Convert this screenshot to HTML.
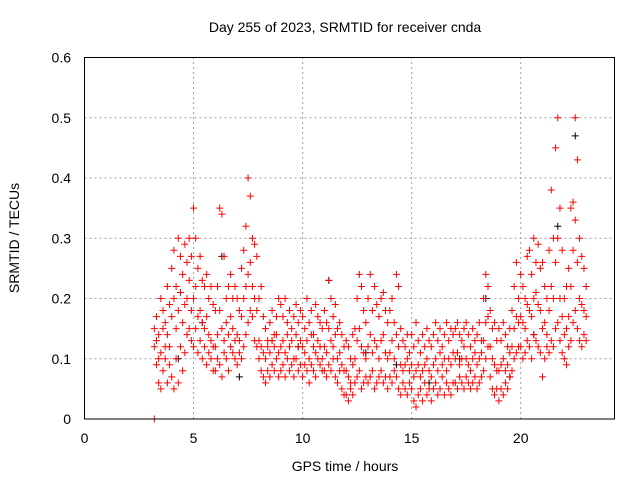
<!DOCTYPE html>
<html><head><meta charset="utf-8"><style>
html,body{margin:0;padding:0;background:#fff;}
svg{display:block;font-family:"Liberation Sans",sans-serif;}
</style></head><body>
<svg id="chart" width="640" height="480" viewBox="0 0 640 480" xmlns="http://www.w3.org/2000/svg">
<rect width="640" height="480" fill="#fff"/>
<text x="345" y="32" font-size="14" text-anchor="middle">Day 255 of 2023, SRMTID for receiver cnda</text>
<g id="grid"></g>
<g id="ticks"></g>
<g id="marks"></g>
<rect x="84.5" y="57.5" width="530" height="361.5" fill="none" stroke="#000" stroke-width="1"/>
<text x="345" y="471" font-size="14" text-anchor="middle">GPS time / hours</text>
<text transform="translate(19,238) rotate(-90)" font-size="14" text-anchor="middle">SRMTID / TECUs</text>
</svg>
<script>
const xTicks=[0,5,10,15,20];
const yTicks=[0,0.1,0.2,0.3,0.4,0.5,0.6];
const yTickLabels=["0","0.1","0.2","0.3","0.4","0.5","0.6"];
const startHour=3.2;
const stepHour=0.1;
const seriesHigh=[.15,.17,.14,.2,.18,.16,.22,.19,
.25,.28,.22,.3,.27,.24,.29,.26,.3,.27,
.35,.3,.25,.27,.23,.22,.24,.2,.22,.19,
.18,.22,.35,.34,.27,.2,.22,.24,.2,.22,
.2,.18,.25,.28,.32,.4,.37,.3,.29,.27,
.2,.22,.17,.15,.13,.16,.18,.14,.17,.2,
.19,.17,.2,.16,.18,.15,.17,.19,.16,.18,
.17,.15,.2,.16,.18,.14,.19,.17,.16,.15,
.18,.16,.23,.2,.17,.19,.15,.16,.14,.12,
.13,.12,.1,.14,.15,.2,.24,.22,.18,.16,
.2,.24,.18,.22,.19,.17,.2,.21,.18,.16,
.18,.2,.16,.24,.22,.15,.13,.12,.14,.11,
.14,.12,.16,.13,.11,.14,.12,.15,.13,.12,
.14,.16,.13,.15,.12,.14,.16,.13,.15,.14,
.15,.16,.14,.13,.15,.16,.14,.12,.15,.13,
.14,.16,.13,.2,.24,.22,.18,.15,.16,.13,
.15,.13,.16,.14,.12,.15,.18,.22,.26,.2,
.24,.22,.2,.27,.28,.24,.3,.26,.29,.25,
.26,.22,.2,.28,.38,.3,.45,.5,.35,.28,
.2,.22,.25,.35,.36,.5,.43,.3,.27,.25,
.22];
const seriesLow=[0,.09,.06,.05,.08,.1,.06,.12,
.07,.05,.1,.06,.12,.08,.11,.14,.15,.13,
.12,.15,.11,.13,.1,.12,.09,.11,.1,.08,
.08,.1,.09,.07,.11,.1,.08,.12,.11,.1,
.09,.11,.1,.12,.14,.16,.18,.17,.13,.12,
.1,.08,.07,.06,.08,.07,.09,.08,.1,.07,
.08,.09,.07,.1,.08,.09,.07,.1,.08,.09,
.07,.09,.08,.06,.09,.08,.07,.1,.09,.08,
.08,.07,.09,.08,.1,.07,.06,.08,.05,.04,
.04,.03,.05,.04,.06,.07,.08,.05,.06,.07,
.06,.07,.08,.05,.06,.07,.08,.06,.07,.05,
.07,.06,.08,.07,.05,.04,.06,.05,.04,.06,
.05,.03,.02,.04,.05,.03,.06,.04,.05,.03,
.05,.06,.04,.05,.07,.04,.06,.05,.04,.06,
.06,.05,.07,.06,.05,.07,.06,.05,.06,.07,
.05,.06,.07,.08,.1,.12,.07,.05,.04,.05,
.03,.05,.04,.06,.05,.07,.08,.1,.11,.12,
.12,.1,.11,.13,.12,.1,.14,.13,.12,.11,
.07,.1,.12,.11,.13,.12,.15,.16,.13,.11,
.1,.09,.12,.13,.16,.18,.15,.13,.12,.14,
.13];
const seriesMid=[.12,.13,.1,.11,.15,.12,.14,.09,
.17,.2,.15,.18,.21,.16,.19,.2,.23,.18,
.2,.22,.17,.18,.16,.15,.17,.14,.13,.12,
.12,.14,.18,.15,.13,.16,.14,.17,.15,.13,
.14,.13,.17,.2,.22,.24,.26,.22,.2,.18,
.13,.12,.11,.1,.12,.11,.13,.12,.14,.11,
.12,.13,.11,.14,.12,.13,.1,.14,.12,.13,
.12,.11,.13,.1,.14,.12,.11,.13,.12,.1,
.12,.11,.15,.13,.12,.14,.1,.11,.09,.08,
.08,.07,.06,.09,.1,.13,.15,.12,.11,.1,
.12,.14,.11,.13,.12,.1,.13,.14,.11,.1,
.11,.13,.1,.14,.12,.09,.08,.09,.1,.08,
.09,.07,.08,.09,.07,.08,.09,.1,.08,.07,
.09,.1,.08,.11,.09,.1,.08,.1,.09,.11,
.1,.11,.09,.1,.12,.1,.09,.08,.1,.11,
.09,.1,.11,.13,.16,.17,.12,.1,.09,.08,
.08,.09,.1,.08,.09,.11,.12,.15,.17,.16,
.17,.16,.15,.19,.18,.17,.2,.21,.19,.18,
.15,.16,.14,.18,.22,.2,.26,.3,.2,.17,
.14,.15,.17,.22,.28,.33,.26,.2,.19,.18,
.17];
const blackTimes=[4.3,5.4,6.3,7.1,8.6,9.8,11.2,12.9,14.3,15.8,17.2,18.4,19.5,20.6,21.7,22.5];
const blackValues=[.1,.16,.27,.07,.13,.12,.23,.11,.09,.06,.1,.2,.07,.14,.32,.47];

const NS="http://www.w3.org/2000/svg";
const X0=84.5,X1=614.5,Y0=419,Y1=57.5,XMAX=24.3,YMAX=0.6;
function sx(h){return X0+(X1-X0)*h/XMAX;}
function sy(v){return Y0-(Y0-Y1)*v/YMAX;}
const grid=document.getElementById('grid'),ticks=document.getElementById('ticks'),marks=document.getElementById('marks');
function mk(tag,at,parent){const e=document.createElementNS(NS,tag);for(const k in at)e.setAttribute(k,at[k]);parent.appendChild(e);return e;}
xTicks.forEach(t=>{
  const x=sx(t);
  if(t>0){const g=mk('line',{x1:x,x2:x,y1:Y0,y2:Y1,stroke:'#a0a0a0','stroke-dasharray':'2,3'},grid);
  
  }
  const l=mk('text',{x:x,y:443,'font-size':14,'text-anchor':'middle'},ticks);l.textContent=String(t);
  
  
});
yTicks.forEach((t,i)=>{
  const y=sy(t);
  if(t>0&&t<0.6){const g=mk('line',{x1:X0,x2:X1,y1:y,y2:y,stroke:'#a0a0a0','stroke-dasharray':'2,3'},grid);
  
  }
  const l=mk('text',{x:71,y:y+5,'font-size':14,'text-anchor':'end'},ticks);l.textContent=yTickLabels[i];
  
  
});
function plus(h,v,color){
  const x=sx(h),y=sy(v);
  const p=mk('path',{d:`M${x-3.5},${y}h7M${x},${y-3.5}v7`,stroke:color,'stroke-width':1,fill:'none'},marks);
  
  
}
blackTimes.forEach((h,i)=>plus(h,blackValues[i],'#000'));
[seriesMid,seriesLow,seriesHigh].forEach(arr=>{
  arr.forEach((v,i)=>plus(startHour+i*stepHour,v,'#ff0000'));
});
</script>
</body></html>
